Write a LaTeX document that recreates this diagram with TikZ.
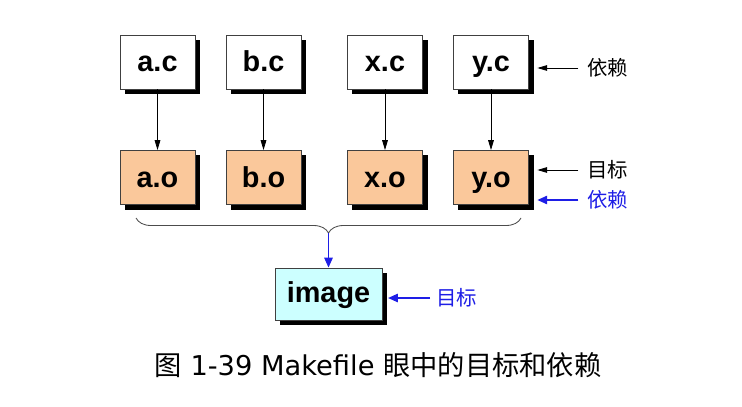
\documentclass[tikz,border=0pt]{standalone}
\usepackage{fontspec}
\setmainfont{Liberation Sans}
\newfontfamily\cjk{Noto Sans CJK SC}
\newfontfamily\capfont{DejaVu Sans}
\usetikzlibrary{arrows.meta}
\usetikzlibrary{shadows}
\usetikzlibrary{decorations.pathreplacing}
\definecolor{peach}{RGB}{250,200,155}
\definecolor{palecyan}{RGB}{204,255,255}
\definecolor{bleu}{RGB}{30,30,230}

\begin{document}
\begin{tikzpicture}[x=0.025cm, y=-0.025cm,
				file/.style = {draw=black!75, line width=0.6pt, fill=white,
					minimum width=1.875cm, minimum height=1.35cm, inner sep=0pt,
					text height=18pt, text depth=4pt,
					font=\bfseries\fontsize{20.5}{24}\selectfont,
					drop shadow={shadow xshift=0.125cm, shadow yshift=-0.125cm,
						opacity=1, fill=black}},
				obj/.style = {file, fill=peach},
				dep/.style = {draw, line width=0.6pt, -{Triangle[length=7pt, width=4pt]}},
				bluedep/.style = {draw=bleu, line width=1pt, -{Triangle[length=7pt, width=6pt]}},
				tag/.style = {font=\cjk\fontsize{14.5}{16}\selectfont, inner sep=0pt}]
				
				\useasboundingbox (0,0) rectangle (742,407);
				
				% Sources
				\node[file] (ac) at (157.5,62) {a.c};
				\node[file] (bc) at (263.5,62) {b.c};
				\node[file] (xc) at (385,62) {x.c};
				\node[file] (yc) at (491,62) {y.c};
				
				% Objects
				\node[obj] (ao) at (157.5,177.5) {a.o};
				\node[obj] (bo) at (263.5,177.5) {b.o};
				\node[obj] (xo) at (385,177.5) {x.o};
				\node[obj] (yo) at (491,177.5) {y.o};
				
				% Image
				\node[file, fill=palecyan, minimum width=2.675cm, minimum height=1.3cm,
					text height=16pt, text depth=4.6pt] (img) at (328.5,294) {image};
				
				\draw[dep] (ac) -- (ao);
				\draw[dep] (bc) -- (bo);
				\draw[dep] (xc) -- (xo);
				\draw[dep] (yc) -- (yo);
				
				% Brace
				\coordinate (bl) at (136,218);
				\coordinate (br) at (521,218);
				\coordinate (tip) at (328.5,233);
				\draw[black!70, line width=0.6pt, decorate, decoration={brace, mirror, amplitude=0.375cm}] (bl) -- (br);
				\draw[bluedep] (tip) -- (img);
				
				% Labels
				\node[tag] (dep1) at (607.5,68) {依赖};
				\node[tag] (tgt1) at (607.5,170) {目标};
				\node[tag, text=bleu] (dep2) at (607.5,200) {依赖};
				\node[tag, text=bleu] (tgt2) at (456.5,298) {目标};
				\draw[dep, shorten <=6pt, shorten >=6pt] (dep1.west) -- (dep1.west -| yc.east);
				\draw[dep, shorten <=6pt, shorten >=6pt] (tgt1.west) -- (tgt1.west -| yo.east);
				\draw[bluedep, shorten <=6pt, shorten >=6pt] (dep2.west) -- (dep2.west -| yo.east);
				\draw[bluedep, shorten <=4pt, shorten >=4pt] (tgt2.west) -- (tgt2.west -| img.east);
				
				% Caption
				\node[inner sep=0pt, font=\fontsize{19.4}{22}\selectfont] (caption) at (378,365)
					{\cjk 图\capfont\ 1-39 Makefile \cjk 眼中的目标和依赖};
				
		\end{tikzpicture}
\end{document}
